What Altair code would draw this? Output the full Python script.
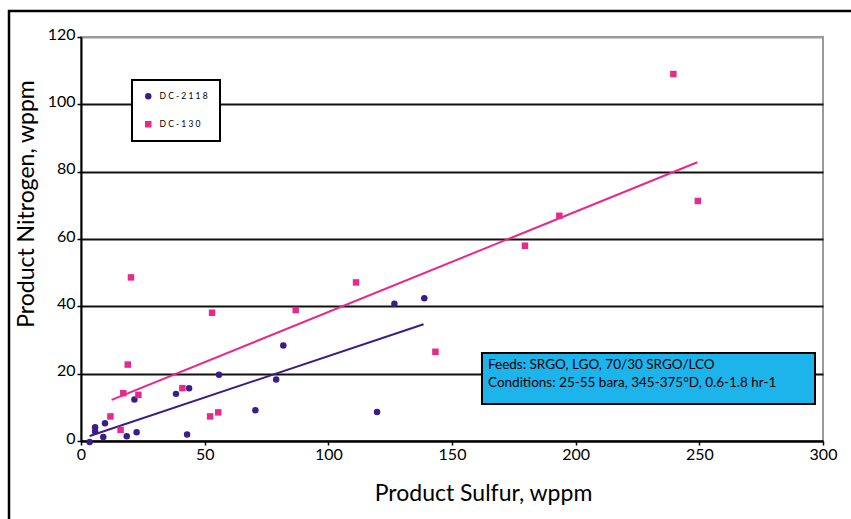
import altair as alt
import pandas as pd

# ---- data ----
dc2118_s = [3.5, 5.7, 5.7, 9.0, 9.7, 18.5, 22.5, 21.6, 38.4, 43.7, 42.9, 55.8, 70.5, 78.9, 81.8, 119.7, 126.7, 138.8]
dc2118_n = [-0.3, 4.1, 2.8, 1.2, 5.3, 1.4, 2.6, 12.3, 14.0, 15.7, 1.9, 19.7, 9.1, 18.3, 28.4, 8.6, 40.8, 42.4]

dc130_s = [11.9, 16.0, 17.1, 18.9, 20.2, 23.2, 41.0, 52.2, 53.0, 55.5, 86.8, 111.2, 143.3, 179.5, 193.4, 239.5, 249.4]
dc130_n = [7.3, 3.3, 14.2, 22.7, 48.6, 13.7, 15.7, 7.3, 38.1, 8.5, 38.9, 47.1, 26.5, 58.0, 66.9, 109.0, 71.3]

# trend line end points (linear fits as drawn)
trend2118_s = [3.5, 138.5]
trend2118_n = [1.5, 34.7]
trend130_s = [12.4, 249.2]
trend130_n = [12.2, 82.8]

series = ["DC-2118", "DC-130"]
colors = ["#3b1d8a", "#e8288c"]
x_ticks = [0, 50, 100, 150, 200, 250, 300]
y_ticks = [0, 20, 40, 60, 80, 100, 120]
note_lines = ["Feeds:  SRGO, LGO, 70/30 SRGO/LCO",
              "Conditions:  25-55 bara, 345-375°D, 0.6-1.8 hr-1"]

pts = pd.concat([
    pd.DataFrame({"s": dc2118_s, "n": dc2118_n, "series": series[0]}),
    pd.DataFrame({"s": dc130_s, "n": dc130_n, "series": series[1]}),
], ignore_index=True)

t1 = pd.DataFrame({"s": trend2118_s, "n": trend2118_n})
t2 = pd.DataFrame({"s": trend130_s, "n": trend130_n})
one = pd.DataFrame({"k": [0]})

xscale = alt.Scale(domain=[0, 300], nice=False)
yscale = alt.Scale(domain=[0, 120], nice=False)

x_enc = alt.X("s:Q", scale=xscale, title="Product Sulfur, wppm",
              axis=alt.Axis(values=x_ticks, grid=False, tickSize=4, labelPadding=1,
                            labelFlush=False, titleX=402, titleY=59,
                            titleAlign="center", titleBaseline="alphabetic"))
y_enc = alt.Y("n:Q", scale=yscale, title="Product Nitrogen, wppm",
              axis=alt.Axis(values=y_ticks, grid=True, gridWidth=2,
                            gridColor={"condition": {"test": "datum.value === 120", "value": "#9a9a9a"},
                                       "value": "#111111"},
                            tickSize=4, labelPadding=2, labelFlush=False,
                            labelBaseline="alphabetic", labelOffset=2,
                            titleAngle=270, titleX=-47.5, titleY=166.5,
                            titleAlign="center", titleBaseline="alphabetic"))

frame_left = alt.Chart(one).mark_rule(color="black", strokeWidth=2.5).encode(
    x=alt.value(-72), y=alt.value(-27), y2=alt.value(482))
frame_top = alt.Chart(one).mark_rule(color="black", strokeWidth=2.5).encode(
    y=alt.value(-26), x=alt.value(-73), x2=alt.value(770))

note_box = alt.Chart(one).mark_rect(fill="#1db4eb", stroke="black", strokeWidth=2).encode(
    x=alt.value(401), x2=alt.value(734), y=alt.value(316), y2=alt.value(367))
note_text = alt.Chart(one).mark_text(text=note_lines, align="left", baseline="alphabetic",
                                     font="Lato", fontSize=13.5, color="black",
                                     lineHeight=18).encode(
    x=alt.value(407), y=alt.value(332))

line1 = alt.Chart(t1).mark_line(color=colors[0], strokeWidth=2).encode(x=x_enc, y=y_enc)
line2 = alt.Chart(t2).mark_line(color=colors[1], strokeWidth=2).encode(x=x_enc, y=y_enc)

points = alt.Chart(pts).mark_point(filled=True, opacity=1, size=42).encode(
    x=x_enc, y=y_enc,
    color=alt.Color("series:N", scale=alt.Scale(domain=series, range=colors),
                    legend=alt.Legend(orient="none", legendX=51, legendY=43, title=None,
                                      fillColor="white", strokeColor="black",
                                      padding=12, rowPadding=19,
                                      labelFont="Lato", labelFontSize=8.5, labelColor="black",
                                      labelExpr="join(split(datum.label, ''), ' ')",
                                      symbolSize=42, labelOffset=7, symbolStrokeWidth=0)),
    shape=alt.Shape("series:N", scale=alt.Scale(domain=series, range=["circle", "square"]),
                    legend=alt.Legend(orient="none", legendX=51, legendY=43, title=None)),
)

chart = alt.layer(frame_left, frame_top, line1, line2, points, note_box, note_text).properties(
    width=742, height=404,
    autosize=alt.AutoSizeParams(type="none"),
    padding={"left": 81, "top": 37, "right": 28, "bottom": 78},
    background="white",
).configure_view(stroke="#9a9a9a", strokeWidth=2).configure_axis(
    domainColor="black", domainWidth=2, tickColor="black", tickWidth=1.5,
    labelFont="Lato", labelFontSize=16, labelColor="black",
    titleFont="Lato", titleFontSize=23, titleFontWeight="normal", titleColor="black",
).configure_legend(strokeWidth=2)

chart.save("out.html", embed_options={"renderer": "svg", "actions": False})
